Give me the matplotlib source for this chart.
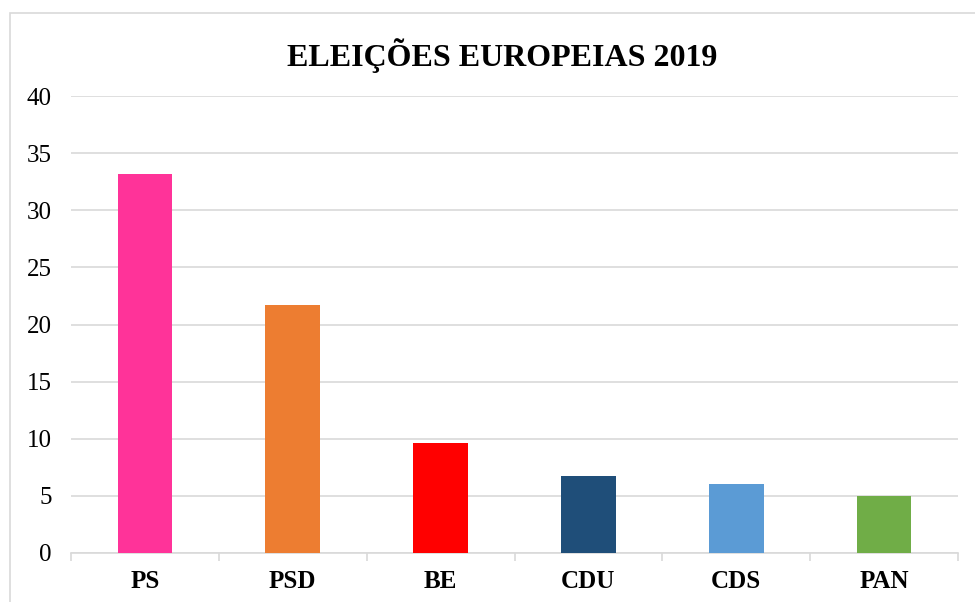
import numpy as np
import matplotlib.pyplot as plt
from matplotlib.patches import Rectangle

# dados
partidos = ['PS', 'PSD', 'BE', 'CDU', 'CDS', 'PAN']
votos = [33.2, 21.7, 9.6, 6.7, 6.0, 5.0]
cores = ['#FF3399', '#ED7D31', '#FF0000', '#1F4E79', '#5B9BD5', '#70AD47']
yticks = [0, 5, 10, 15, 20, 25, 30, 35, 40]

plt.rcParams['font.family'] = ['Liberation Serif', 'DejaVu Serif']

fig = plt.figure(figsize=(9.75, 6.02), dpi=100)
ax = fig.add_axes([0.0728, 0.0814, 0.9098, 0.7591])

x = np.arange(len(partidos))
ax.bar(x, votos, width=0.37, color=cores, zorder=3)

ax.set_xlim(-0.5, len(partidos) - 0.5)
ax.set_ylim(0, 40)
ax.set_yticks(yticks)
ax.set_yticklabels([str(t) for t in yticks], fontsize=18)
ax.tick_params(axis='y', length=0, pad=14)

# eixo x com marcas entre categorias
ax.set_xticks(x)
ax.set_xticklabels(partidos, fontsize=18, fontweight='bold')
ax.tick_params(axis='x', which='major', length=0, pad=12)
ax.set_xticks(np.arange(-0.5, len(partidos)), minor=True)
ax.tick_params(axis='x', which='minor', length=6, color='#d9d9d9', width=1.2)

ax.grid(axis='y', color='#d9d9d9', linewidth=1.2, zorder=0)
for s in ['top', 'right', 'left']:
    ax.spines[s].set_visible(False)
ax.spines['bottom'].set_color('#d9d9d9')
ax.spines['bottom'].set_linewidth(1.2)

fig.text(0.515, 0.908, 'ELEIÇÕES EUROPEIAS 2019', ha='center', va='center',
         fontsize=23, fontweight='bold')

# moldura do gráfico
fig.patches.append(Rectangle((10 / 975, -0.1), 1.2, 1.1 - 13 / 602,
                             transform=fig.transFigure, fill=False,
                             edgecolor='#d9d9d9', linewidth=1.2))

plt.savefig('out.png', dpi=100)
